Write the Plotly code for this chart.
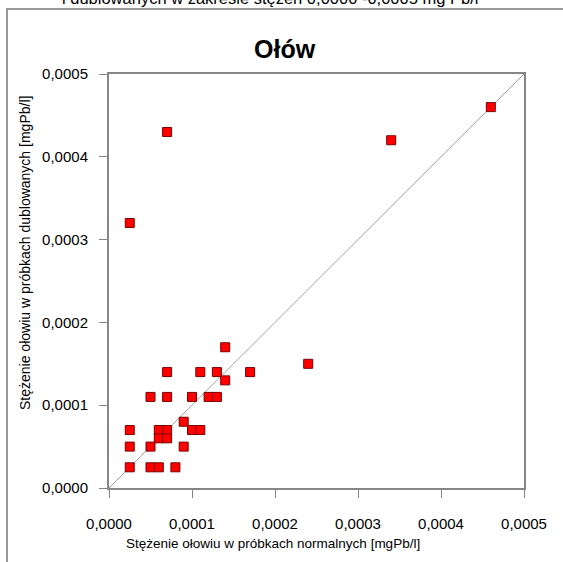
import plotly.graph_objects as go

x_normal = [0.00046, 0.00034, 0.00007, 0.000025, 0.00014, 0.00007, 0.00011, 0.00013,
            0.00017, 0.00014, 0.00024, 0.00005, 0.00007, 0.0001, 0.00012, 0.00013,
            0.000025, 0.000025, 0.000025, 0.00005, 0.00005, 0.00006, 0.00008,
            0.00006, 0.00007, 0.00006, 0.00007, 0.00009, 0.0001, 0.00011, 0.00009]
y_dup = [0.00046, 0.00042, 0.00043, 0.00032, 0.00017, 0.00014, 0.00014, 0.00014,
         0.00014, 0.00013, 0.00015, 0.00011, 0.00011, 0.00011, 0.00011, 0.00011,
         0.00007, 0.00005, 0.000025, 0.00005, 0.000025, 0.000025, 0.000025,
         0.00007, 0.00007, 0.00006, 0.00006, 0.00008, 0.00007, 0.00007, 0.00005]
line_x = [0.0, 0.0005]
tick_vals = [0.0, 0.0001, 0.0002, 0.0003, 0.0004, 0.0005]

font = "Liberation Sans, Arial, sans-serif"
grey = "#868686"

fig = go.Figure()
fig.add_trace(go.Scatter(x=line_x, y=line_x, mode="lines",
                         line=dict(color="#a0a0a0", width=1), hoverinfo="skip"))
fig.add_trace(go.Scatter(x=x_normal, y=y_dup, mode="markers",
                         marker=dict(symbol="square", size=9, color="#ff0000",
                                     line=dict(color="#7a0000", width=1))))

axis_common = dict(range=[0, 0.0005], tickvals=tick_vals, tickformat=".4f",
                   showgrid=False, zeroline=False, showline=True, linecolor=grey,
                   linewidth=2, mirror=True, ticks="outside", ticklen=8,
                   tickcolor=grey, tickwidth=1,
                   tickfont=dict(family=font, size=15, color="#000"))

PW, PH = 415, 414  # plot area size in px
L, T = 109, 74


def px(xp):
    return (xp - L) / PW


def py(yp):
    return (T + PH - yp) / PH


frame_path = "M {a},{b} L {a},{c} L {d},{c}".format(a=px(7), b=py(570), c=py(9), d=px(570))

fig.update_layout(
    width=563, height=562, showlegend=False,
    margin=dict(l=109, r=39, t=74, b=74),
    paper_bgcolor="white", plot_bgcolor="white",
    separators=", ",
    xaxis=dict(**axis_common, ticklabelstandoff=13),
    yaxis=dict(**axis_common, ticklabelstandoff=8),
    font=dict(family=font, color="#000"),
    shapes=[dict(type="path", xref="paper", yref="paper", path=frame_path,
                 line=dict(color="#9a9a9a", width=2), layer="below")],
    annotations=[
        dict(text="<b>Ołów</b>", xref="paper", yref="paper", x=px(285),
             y=py(49), xanchor="center", yanchor="middle",
             showarrow=False, font=dict(family=font, size=25, color="#000")),
        dict(text="Stężenie ołowiu w próbkach normalnych [mgPb/l]", xref="paper",
             yref="paper", x=px(273), y=py(543),
             xanchor="center", yanchor="middle", showarrow=False,
             font=dict(family=font, size=13.5, color="#000")),
        dict(text="Stężenie ołowiu w próbkach dublowanych [mgPb/l]", xref="paper",
             yref="paper", x=px(25), y=py(253), textangle=-90,
             xanchor="center", yanchor="middle", showarrow=False,
             font=dict(family=font, size=14, color="#000")),
        dict(text="i dublowanych w zakresie stężeń 0,0000 -0,0005 mg Pb/l", xref="paper",
             yref="paper", x=px(270), y=py(9),
             xanchor="center", yanchor="bottom", showarrow=False,
             font=dict(family=font, size=16.5, color="#000")),
    ],
)

fig.write_html("out.html", config={"displayModeBar": False},
               post_script="document.body.style.margin='0';document.body.style.overflow='hidden';"
                           "document.documentElement.style.overflow='hidden';")
